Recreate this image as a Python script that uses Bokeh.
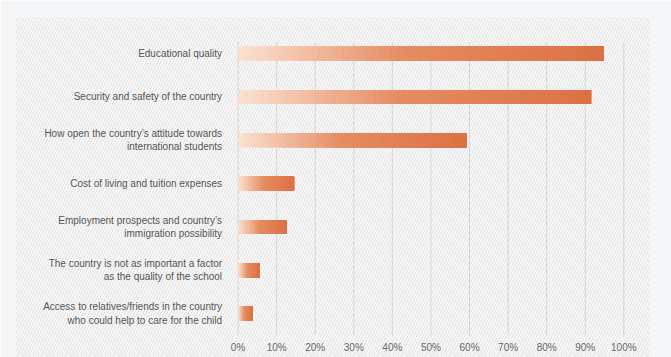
from bokeh.plotting import figure
from bokeh.models import Range1d, FixedTicker, BoxAnnotation, ColumnDataSource
from bokeh.embed import file_html
from bokeh.resources import INLINE

categories = [
    "Educational quality",
    "Security and safety of the country",
    "How open the country\u2019s attitude towards\ninternational students",
    "Cost of living and tuition expenses",
    "Employment prospects and country\u2019s\nimmigration possibility",
    "The country is not as important a factor\nas the quality of the school",
    "Access to relatives/friends in the country\nwho could help to care for the child",
]
values = [94.7, 91.5, 59.2, 14.5, 12.5, 5.5, 3.7]
x_ticks = [0, 10, 20, 30, 40, 50, 60, 70, 80, 90, 100]
tick_labels = ["0%", "10%", "20%", "30%", "40%", "50%", "60%", "70%", "80%", "90%", "100%"]

FONT = "Liberation Sans"

# gradient stops (fraction of bar length -> rgb)
stops = [(0.0, (251, 225, 209)), (0.45, (230, 140, 98)), (1.0, (219, 113, 67))]


def grad_color(t):
    for (t0, c0), (t1, c1) in zip(stops[:-1], stops[1:]):
        if t <= t1:
            f = (t - t0) / (t1 - t0)
            c = [round(a + (b - a) * f) for a, b in zip(c0, c1)]
            return "#%02x%02x%02x" % tuple(c)
    return "#%02x%02x%02x" % stops[-1][1]


N = 60
ys, lefts, rights, colors = [], [], [], []
for i, v in enumerate(values):
    for k in range(N):
        ys.append(i)
        lefts.append(v * k / N)
        rights.append(v)
        colors.append(grad_color((k + 0.5) / N))
src = ColumnDataSource(dict(y=ys, left=lefts, right=rights, color=colors))

p = figure(width=671, height=357, output_backend="svg", toolbar_location=None,
           x_range=Range1d(-57.71, 106.92), y_range=Range1d(7.014, -0.856),
           min_border_left=15, min_border_right=21, min_border_top=16, min_border_bottom=0)
p.background_fill_color = "#f8f8f8"
p.border_fill_color = "#f5f6f8"
p.outline_line_color = None
p.xgrid.visible = False
p.ygrid.visible = False

hatch = BoxAnnotation(fill_alpha=0, line_color=None, hatch_pattern="/",
                      hatch_color="#e2e2e2", hatch_scale=6, hatch_weight=1,
                      level="underlay")
p.add_layout(hatch)

p.segment(x0=x_ticks, y0=-0.256, x1=x_ticks, y1=6.506, line_color="#d6d6d6", line_width=1)

p.hbar(y="y", left="left", right="right", height=0.323, fill_color="color",
       line_color=None, source=src)

xa = p.xaxis[0]
xa.fixed_location = 6.506
xa.ticker = FixedTicker(ticks=x_ticks)
xa.major_label_overrides = {t: lab for t, lab in zip(x_ticks, tick_labels)}
xa.axis_line_color = None
xa.major_tick_line_color = None
xa.minor_tick_line_color = None
xa.major_tick_out = 0
xa.major_tick_in = 0
xa.major_label_standoff = 7
xa.major_label_text_font = FONT
xa.major_label_text_font_size = "10px"
xa.major_label_text_color = "#666666"

ya = p.yaxis[0]
ya.fixed_location = 0
ya.ticker = FixedTicker(ticks=list(range(len(categories))))
ya.major_label_overrides = {i: c for i, c in enumerate(categories)}
ya.axis_line_color = None
ya.major_tick_line_color = None
ya.minor_tick_line_color = None
ya.major_tick_out = 0
ya.major_tick_in = 0
ya.major_label_standoff = 16
ya.major_label_text_font = FONT
ya.major_label_text_font_size = "10px"
ya.major_label_text_color = "#555555"

open("out.html", "w").write(file_html(p, INLINE))
